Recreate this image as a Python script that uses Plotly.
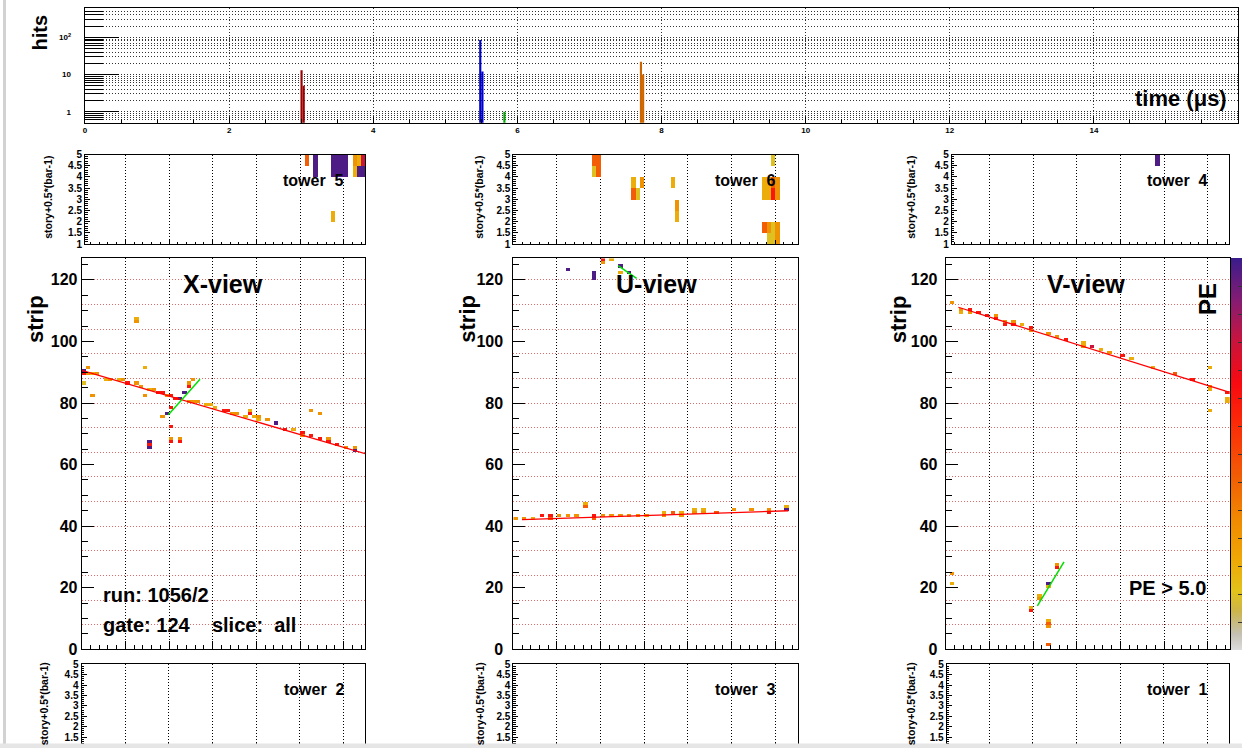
import plotly.graph_objects as go

FONT = "Liberation Sans, Arial, Helvetica, sans-serif"
W, H = 1242, 748

# ---------------- time spectrum: hits per 30 ns bin, one colour per slice ----------------
slice_colors = ["#990000", "#0000cc", "#00aa00", "#cc6600"]
slice_times_us = [[3.005, 3.035], [5.485, 5.515], [5.82], [7.715, 7.745]]
slice_hits = [[13, 5], [85, 12], [1], [22, 10]]
time_bin_us = 0.03
hit_axis_labels = ["1", "10", "10<sup>2</sup>"]

# ---------------- strip views: plane, strip, PE of each hit ----------------
x_plane = [1, 1, 1, 3, 3, 5, 7, 5, 11, 13, 17, 19, 21, 25, 27, 25, 25, 29, 29, 31, 33, 35, 37, 39, 41,
           37, 39, 41, 41, 41, 41, 45, 45, 31, 31, 31, 45, 47, 49, 49, 51, 43, 49, 51, 53, 57, 59, 61,
           65, 67, 69, 71, 77, 77, 75, 79, 81, 81, 85, 89, 93, 97, 101, 101, 105, 105, 109,
           109, 113, 113, 117, 121, 125, 125]
x_strip = [90, 89, 86, 91, 89, 89, 89, 82, 87, 87, 87, 87, 86, 86, 85, 107, 106, 91, 82, 84, 84, 83, 83, 82, 82,
           75, 76, 78, 72, 68, 67, 68, 67, 67, 66, 65, 81, 83, 85, 86, 87, 81, 80, 80, 80, 79, 79, 78,
           77, 77, 76, 76, 77, 76, 75, 75, 75, 74, 74, 73, 71, 71, 70, 69, 69, 77, 76,
           68, 68, 67, 66, 65, 65, 64]
x_pe = [68, 45, 10, 21, 21, 15, 21, 21, 15, 21, 15, 21, 45, 21, 21, 15, 21, 15, 21, 15, 21, 45, 45, 21, 45,
        21, 68, 45, 45, 21, 45, 21, 45, 68, 45, 68, 68, 68, 45, 21, 21, 45, 21, 21, 21, 15, 15, 15,
        45, 45, 21, 21, 15, 45, 15, 15, 21, 15, 21, 68, 45, 15, 45, 21, 45, 21, 21,
        45, 21, 45, 45, 21, 21, 68]

u_plane = [1, 5, 9, 13, 17, 17, 21, 25, 29, 33, 33, 37, 37, 41, 45, 49, 53, 57, 61,
           69, 69, 73, 77, 77, 83, 83, 87, 87, 93, 101, 109, 117, 117, 125, 125,
           25, 37, 37, 37, 41, 41, 45, 49, 49, 53]
u_strip = [42, 42, 42, 43, 43, 42, 43, 43, 43, 47, 46, 43, 42, 43, 43, 43, 43, 43, 43,
           44, 43, 44, 44, 43, 45, 44, 45, 44, 44, 45, 45, 45, 44, 46, 45,
           123, 122, 121, 120, 126, 125, 126, 124, 122, 122]
u_pe = [21, 21, 15, 45, 45, 31, 21, 21, 21, 15, 31, 45, 31, 21, 21, 21, 21, 21, 21,
        15, 21, 31, 15, 21, 15, 21, 15, 21, 31, 21, 21, 21, 45, 15, 68,
        68, 68, 68, 68, 45, 21, 15, 68, 15, 68]

v_plane = [3, 7, 7, 11, 11, 15, 19, 23, 23, 27, 27, 31, 31, 35, 39, 39, 47, 51,
           55, 63, 63, 67, 71, 75, 81, 85, 95, 105, 113, 121, 121, 121, 121, 129, 129, 129,
           3, 3, 39, 39, 43, 43, 47, 47, 47, 47, 47, 47, 51, 51]
v_strip = [112, 110, 109, 110, 109, 109, 108, 108, 107, 106, 105, 106, 105, 105, 104, 103, 102, 101,
           100, 99, 98, 98, 97, 96, 95, 94, 91, 89, 87, 91, 85, 84, 77, 83, 81, 80,
           24, 21, 13, 12, 17, 16, 21, 20, 9, 8, 7, 1, 27, 26]
v_pe = [21, 21, 15, 45, 21, 45, 45, 21, 45, 21, 45, 21, 45, 15, 45, 21, 21, 21,
        45, 15, 21, 55, 15, 21, 45, 15, 15, 31, 45, 15, 21, 15, 15, 45, 15, 15,
        21, 15, 15, 45, 15, 21, 68, 15, 15, 31, 21, 31, 21, 45]

# track fits (red) and short secondary tracks (green): plane, strip
x_fit_plane, x_fit_strip = [0, 130], [90.6, 63.5]
u_fit_plane, u_fit_strip = [4, 126], [42.1, 45.0]
v_fit_plane, v_fit_strip = [5.8, 129.4], [111.1, 83.6]
x_sec_plane, x_sec_strip = [39.7, 54.2], [76.2, 87.7]
u_sec_plane, u_sec_strip = [48.0, 56.5], [124.6, 120.5]
v_sec_plane, v_sec_strip = [42.0, 54.2], [14.1, 28.4]

# ---------------- tower displays: plane, story+0.5*(bar-1), PE ----------------
t5_plane = [103, 107, 107, 115, 115, 117, 117, 119, 119, 121, 121, 125, 125, 127, 127, 129, 129, 115]
t5_story = [4.75, 4.75, 4.25, 4.75, 4.25, 4.75, 4.25, 4.75, 4.25, 4.75, 4.25, 4.75, 4.25, 4.75, 4.25,
            4.75, 4.25, 2.25]
t5_pe = [31, 68, 68, 68, 68, 68, 68, 68, 68, 68, 68, 21, 15, 15, 68, 55, 68, 15]

t6_plane = [37, 37, 39, 39, 55, 55, 57, 59, 73, 75, 75, 119,
            115, 115, 117, 117, 119, 119, 121, 121, 115, 117, 117, 119, 119, 121, 121]
t6_story = [4.75, 4.25, 4.75, 4.25, 3.75, 3.25, 3.25, 3.75, 3.75, 2.75, 2.25, 4.75,
            3.75, 3.25, 3.75, 3.25, 3.75, 3.25, 3.75, 3.25, 1.75, 1.75, 1.25, 1.75, 1.25, 1.75, 1.25]
t6_pe = [31, 10, 31, 31, 15, 31, 10, 21, 15, 21, 15, 10,
         15, 15, 15, 15, 31, 45, 21, 21, 31, 21, 10, 10, 10, 21, 21]

t4_plane, t4_story, t4_pe = [97], [4.75], [68]
empty = []

# ---------------- palette ----------------
PE_SCALE = [[0.00, "#dcdcdc"], [0.04, "#c4c0b4"], [0.10, "#cdb54a"], [0.15, "#e2c21a"],
            [0.23, "#efa806"], [0.33, "#f08a00"], [0.45, "#f25a05"], [0.58, "#fb2a08"],
            [0.68, "#f80a10"], [0.79, "#c8143e"], [0.89, "#861c72"], [1.00, "#3a1c8c"]]
PE_MIN, PE_MAX = 0, 70

PLANE_CENTERS = list(range(1, 130, 2))
STRIP_CENTERS = [s + 0.5 for s in range(127)]
STORY_CENTERS = [1.25 + 0.5 * k for k in range(8)]
PX_PER_PLANE = 43.66 / 20


def px_x(p):
    return p / W


def px_y(p):
    return 1 - p / H


def bold(size, color="black"):
    return dict(family=FONT, size=size, color=color, weight="bold")


def label(text, x, y, size, angle=0, xanchor="center"):
    return dict(text=text, x=px_x(x), y=px_y(y), xref="paper", yref="paper", showarrow=False,
                xanchor=xanchor, yanchor="middle", textangle=angle, font=bold(size))


def fill(xc, yc, xs, ys, vals):
    z = [[None] * len(xc) for _ in yc]
    for xv, yv, v in zip(xs, ys, vals):
        j = xc.index(xv)
        i = min(range(len(yc)), key=lambda k: abs(yc[k] - yv))
        z[i][j] = v
    return z


fig = go.Figure()
layout = dict(width=W, height=H, margin=dict(l=0, r=0, t=0, b=0, autoexpand=False),
              paper_bgcolor="white", plot_bgcolor="white", showlegend=False,
              font=dict(family=FONT, color="black"), barmode="overlay")
annotations = []
shapes = []

DOT = "1px,2px"

# ---------------- time spectrum ----------------
hist_range = [-0.296, 2.78]
grid_hits = [m * 10 ** e for e in (-1, 0, 1, 2) for m in range(1, 10) if 0.55 <= m * 10 ** e <= 550]
layout["xaxis"] = dict(domain=[px_x(85), px_x(1238)], range=[0, 16], anchor="y",
                       showline=True, mirror=True, linecolor="black", linewidth=1,
                       ticks="inside", ticklen=6, tickcolor="black", tick0=0, dtick=2,
                       minor=dict(dtick=0.5, ticks="inside", ticklen=3.5, tickcolor="black"),
                       showgrid=True, gridcolor="#333", griddash=DOT, zeroline=False,
                       tickfont=bold(8), fixedrange=True)
layout["yaxis"] = dict(domain=[px_y(122.7), px_y(8.3)], type="log", range=hist_range, anchor="x",
                       showline=True, mirror=True, linecolor="black", linewidth=1,
                       tickvals=grid_hits, ticks="inside", ticklen=18, tickcolor="black",
                       showticklabels=False, showgrid=True, gridcolor="#333", griddash=DOT,
                       zeroline=False, fixedrange=True)
layout["yaxis2"] = dict(type="log", range=hist_range, overlaying="y", anchor="x", side="left",
                        tickvals=[1, 10, 100], ticktext=hit_axis_labels, ticks="inside", ticklen=34,
                        tickcolor="black", showgrid=False, showline=False, zeroline=False,
                        tickfont=bold(8), ticklabelstandoff=13, fixedrange=True)
for col, ts, hs in zip(slice_colors, slice_times_us, slice_hits):
    fig.add_trace(go.Bar(x=ts, y=hs, width=time_bin_us, marker=dict(color=col, line=dict(width=0)),
                         xaxis="x", yaxis="y", hoverinfo="x+y"))
fig.add_trace(go.Scatter(x=[], y=[], xaxis="x", yaxis="y2"))
annotations.append(label("hits", 39, 32.5, 20, angle=-90))
annotations.append(label("time (\u03bcs)", 1229, 99, 22, xanchor="right"))

# ---------------- tower panels ----------------
towers = [
    ("5", 85.0, 365.0, 154.5, 244.0, 1.5, t5_plane, t5_story, t5_pe, (313.7, 181), 48),
    ("6", 513.3, 797.7, 154.5, 244.0, 0.0, t6_plane, t6_story, t6_pe, (745.8, 181), 479),
    ("4", 951.7, 1229.3, 154.5, 244.0, 2.75, t4_plane, t4_story, t4_pe, (1177.8, 181), 911),
    ("2", 81.5, 365.0, 664.3, 747.4, 0.0, empty, empty, empty, (314, 689), 44),
    ("3", 513.3, 797.7, 664.3, 747.4, 0.0, empty, empty, empty, (745.8, 689), 480),
    ("1", 946.7, 1229.0, 664.3, 747.4, 0.5, empty, empty, empty, (1177, 689), 911),
]
for k, (name, l, r, t, b, x0, tp, ts, tpe, lab, ytx) in enumerate(towers):
    xi, yi = 2 + k, 3 + k
    xn, yn = f"x{xi}", f"y{yi}"
    layout[f"xaxis{xi}"] = dict(domain=[px_x(l), px_x(r)], range=[x0, x0 + (r - l) / PX_PER_PLANE],
                                anchor=yn, showline=True, mirror=True, linecolor="black", linewidth=1,
                                ticks="inside", ticklen=4, tickcolor="black", tick0=0, dtick=20,
                                minor=dict(dtick=4, ticks="inside", ticklen=2, tickcolor="black"),
                                showticklabels=False, showgrid=True, gridcolor="black", griddash=DOT,
                                zeroline=False, fixedrange=True)
    layout[f"yaxis{yi}"] = dict(domain=[px_y(b), px_y(t)], range=[1, 5], anchor=xn,
                                showline=True, mirror=True, linecolor="black", linewidth=1,
                                ticks="inside", ticklen=5, tickcolor="black", tick0=1, dtick=0.5,
                                minor=dict(dtick=0.1, ticks="inside", ticklen=2.5, tickcolor="black"),
                                showgrid=False, zeroline=False, tickfont=bold(10), fixedrange=True)
    if tp:
        fig.add_trace(go.Heatmap(x=PLANE_CENTERS, y=STORY_CENTERS,
                                 z=fill(PLANE_CENTERS, STORY_CENTERS, tp, ts, tpe),
                                 coloraxis="coloraxis", xaxis=xn, yaxis=yn, hoverongaps=False))
    else:
        fig.add_trace(go.Scatter(x=[], y=[], xaxis=xn, yaxis=yn))
    annotations.append(label(f"tower\u00a0\u00a0{name}", lab[0], lab[1], 16))
    annotations.append(label("story+0.5*(bar-1)", ytx, (t + b) / 2 - 1.5, 10.5, angle=-90))

# ---------------- strip views ----------------
views = [
    ("X-view", 81.7, 365.0, x_plane, x_strip, x_pe, x_fit_plane, x_fit_strip, x_sec_plane, x_sec_strip,
     223, 35, 0),
    ("U-view", 513.3, 797.7, u_plane, u_strip, u_pe, u_fit_plane, u_fit_strip, u_sec_plane, u_sec_strip,
     656.5, 466.7, 6),
    ("V-view", 945.7, 1230.0, v_plane, v_strip, v_pe, v_fit_plane, v_fit_strip, v_sec_plane, v_sec_strip,
     1086.3, 898.3, 4),
]
VIEW_TOP, VIEW_BOTTOM = 258.3, 649.3
for k, (title, l, r, vp, vs, vpe, fp, fs, sp, ss, tx, stx, standoff) in enumerate(views):
    xi, yi, gi = 8 + k, 9 + k, 12 + k
    xn, yn, gn = f"x{xi}", f"y{yi}", f"y{gi}"
    layout[f"xaxis{xi}"] = dict(domain=[px_x(l), px_x(r)], range=[0, (r - l) / PX_PER_PLANE], anchor=yn,
                                showline=True, mirror=True, linecolor="black", linewidth=1,
                                ticks="inside", ticklen=8, tickcolor="black", tick0=0, dtick=20,
                                minor=dict(dtick=4, ticks="inside", ticklen=4, tickcolor="black"),
                                showticklabels=False, showgrid=True, gridcolor="black", griddash=DOT,
                                zeroline=False, fixedrange=True)
    layout[f"yaxis{yi}"] = dict(domain=[px_y(VIEW_BOTTOM), px_y(VIEW_TOP)], range=[0, 127], anchor=xn,
                                showline=True, mirror=True, linecolor="black", linewidth=1,
                                ticks="inside", ticklen=12, tickcolor="black", tick0=0, dtick=20,
                                minor=dict(dtick=5, ticks="inside", ticklen=6, tickcolor="black"),
                                showgrid=False, zeroline=False, tickfont=bold(16),
                                ticklabelstandoff=standoff, fixedrange=True)
    layout[f"yaxis{gi}"] = dict(range=[0, 127], overlaying=yn, anchor=xn, tick0=0, dtick=8,
                                showgrid=True, gridcolor="#e06a6a", griddash=DOT, showticklabels=False,
                                ticks="", showline=False, zeroline=False, fixedrange=True)
    fig.add_trace(go.Scatter(x=[], y=[], xaxis=xn, yaxis=gn))
    fig.add_trace(go.Heatmap(x=PLANE_CENTERS, y=STRIP_CENTERS,
                             z=fill(PLANE_CENTERS, STRIP_CENTERS, vp, [s + 0.5 for s in vs], vpe),
                             coloraxis="coloraxis", xaxis=xn, yaxis=yn, hoverongaps=False))
    fig.add_trace(go.Scatter(x=fp, y=fs, mode="lines", line=dict(color="#ff0000", width=1.3),
                             xaxis=xn, yaxis=yn, hoverinfo="skip"))
    fig.add_trace(go.Scatter(x=sp, y=ss, mode="lines", line=dict(color="#00e000", width=1.5),
                             xaxis=xn, yaxis=yn, hoverinfo="skip"))
    annotations.append(label(title, tx, 284, 25))
    annotations.append(label("strip", stx, 319, 22, angle=-90))

annotations.append(label("run: 1056/2", 101, 595, 20, xanchor="left"))
annotations.append(label("gate: 124\u00a0\u00a0\u00a0\u00a0slice:\u00a0\u00a0all", 101, 625, 20, xanchor="left"))
annotations.append(label("PE &gt; 5.0", 1167, 587.5, 20))
annotations.append(label("PE", 1208, 299, 24, angle=-90))

layout["coloraxis"] = dict(colorscale=PE_SCALE, cmin=PE_MIN, cmax=PE_MAX,
                           colorbar=dict(x=px_x(1231), xanchor="left", xpad=0, ypad=0,
                                         y=px_y((VIEW_TOP + 650) / 2), yanchor="middle",
                                         len=650 - VIEW_TOP, lenmode="pixels", thickness=11,
                                         thicknessmode="pixels", outlinewidth=0, ticks="inside",
                                         ticklen=4, tickcolor="#333", tick0=0, dtick=5,
                                         showticklabels=False))

# canvas edge
shapes.append(dict(type="rect", xref="paper", yref="paper", x0=px_x(3), x1=px_x(6), y0=0, y1=1,
                   fillcolor="#d2d2d2", line=dict(width=0), layer="above"))
shapes.append(dict(type="rect", xref="paper", yref="paper", x0=0, x1=1, y0=0, y1=px_y(743.5),
                   fillcolor="#e6e6e6", line=dict(width=0), layer="above"))

layout["annotations"] = annotations
layout["shapes"] = shapes
fig.update_layout(**layout)
fig.write_html("out.html", config=dict(displayModeBar=False))
